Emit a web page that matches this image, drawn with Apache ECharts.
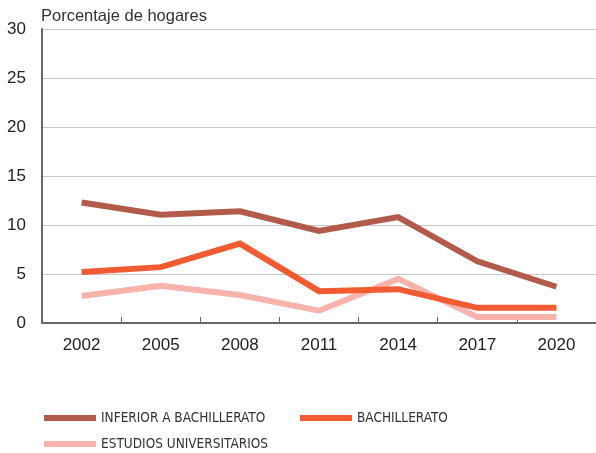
<!DOCTYPE html>
<html><head><meta charset="utf-8">
<script src="https://cdn.jsdelivr.net/npm/echarts@6/dist/echarts.min.js"></script>
<style>html,body{margin:0;padding:0;background:#fff}#c{width:596px;height:453px}</style>
</head><body><div id="c"></div>
<script>
const years = ['2002','2005','2008','2011','2014','2017','2020'];
const yTicks = [0,5,10,15,20,25,30];
const inferior = [12.3, 11.05, 11.4, 9.4, 10.8, 6.3, 3.7];
const bachillerato = [5.2, 5.7, 8.1, 3.25, 3.45, 1.55, 1.55];
const universitarios = [2.75, 3.8, 2.85, 1.25, 4.5, 0.6, 0.6];
const names = ['INFERIOR A BACHILLERATO','BACHILLERATO','ESTUDIOS UNIVERSITARIOS'];
const colors = ['#b35b4b','#f05b32','#f8b3ad'];

const chart = echarts.init(document.getElementById('c'));
const font = 'Liberation Sans, Helvetica, Arial, sans-serif';
const legendText = {fontFamily:'DejaVu Sans Condensed, Liberation Sans Narrow, sans-serif', fontSize:13.5, color:'#333', padding:[0,0,0,0]};
function mk(name, data, i){
  return {name:name, type:'line', data:data, symbol:'none', smooth:false,
    lineStyle:{width:6, color:colors[i], cap:'butt', join:'miter'}, itemStyle:{color:colors[i]}, z:10-i};
}
function lg(i, left, top){
  return {data:[names[i]], left:left, top:top, padding:0, icon:'rect', itemWidth:52, itemHeight:6, itemGap:0, textStyle:legendText};
}
chart.setOption({
  animation:false,
  title:{text:'Porcentaje de hogares', left:41, top:8, padding:0, textStyle:{fontFamily:font, fontSize:16.5, fontWeight:'normal', color:'#333'}},
  grid:{left:42, right:0, top:29, bottom:130, containLabel:false},
  legend:[lg(0,44,411), lg(1,300,411), lg(2,44,437)],
  xAxis:{type:'category', data:years, boundaryGap:true,
    axisLine:{lineStyle:{color:'#666', width:2}},
    axisTick:{show:true, inside:true, length:6, lineStyle:{color:'#666', width:1}},
    axisLabel:{fontFamily:font, fontSize:17, color:'#222', margin:14}},
  yAxis:{type:'value', min:0, max:30, interval:5,
    axisLine:{show:true, lineStyle:{color:'#666', width:2}},
    axisTick:{show:false},
    splitLine:{lineStyle:{color:'#c8c8c8', width:1}},
    axisLabel:{fontFamily:font, fontSize:17, color:'#222', margin:16,
      formatter:function(v){return yTicks.indexOf(v)>=0?String(v):'';}}},
  series:[mk(names[0],inferior,0), mk(names[1],bachillerato,1), mk(names[2],universitarios,2)]
});
</script></body></html>
